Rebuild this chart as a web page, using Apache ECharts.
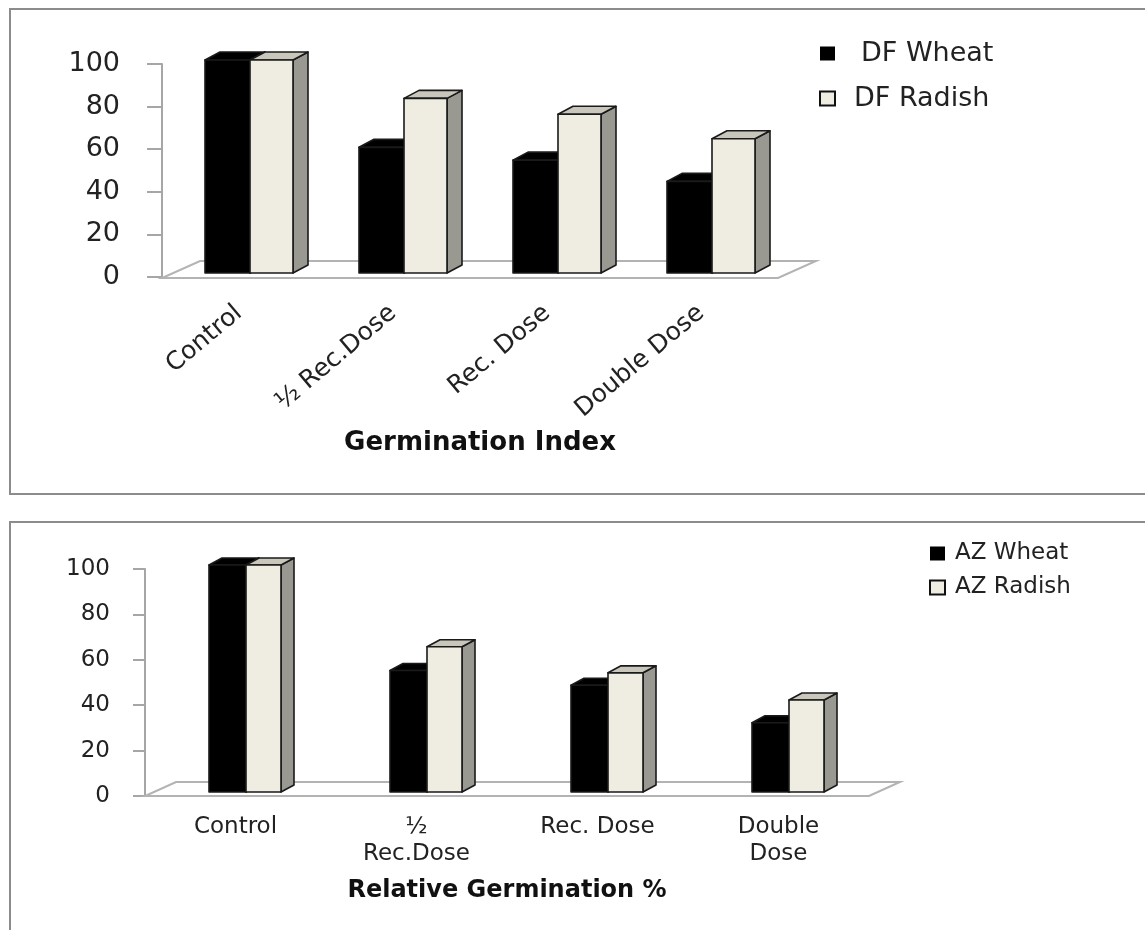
<!DOCTYPE html>
<html>
<head>
<meta charset="utf-8">
<script src="https://cdn.jsdelivr.net/npm/echarts@6/dist/echarts.min.js"></script>
<style>
  html, body { margin: 0; padding: 0; background: #ffffff; }
  #chart { width: 1145px; height: 930px; }
</style>
</head>
<body>
<div id="chart"></div>
<script>
// ---- data ----
const categoriesTop = ['Control', '½ Rec.Dose', 'Rec. Dose', 'Double Dose'];
const categoriesBottom = ['Control', '½\nRec.Dose', 'Rec. Dose', 'Double\nDose'];
const dfWheat = [100, 59, 53, 43];
const dfRadish = [100, 82, 74.5, 63];
const azWheat = [100, 53.5, 47, 30.5];
const azRadish = [100, 64, 52.5, 40.5];
const yMin = 0, yMax = 100, yStep = 20;

const FONT = 'DejaVu Sans';

function barRenderer(cfg) {
  return function (params, api) {
    const cat = api.value(0);
    const v = api.value(1);
    const base = api.coord([cat, 0]);
    const top = api.coord([cat, v]);
    const band = api.size([1, 0])[0];
    const x0 = base[0] - band / 2 + cfg.offset;
    const w = cfg.width;
    const yb = base[1] + cfg.shiftY;
    const yt = top[1] + cfg.shiftY;
    const dx = cfg.dx, dy = cfg.dy;
    const stroke = { stroke: '#1a1a1a', lineWidth: 1.6, lineJoin: 'round' };
    return {
      type: 'group',
      children: [
        { type: 'polygon', shape: { points: [[x0 + w, yt], [x0 + w + dx, yt - dy], [x0 + w + dx, yb - dy], [x0 + w, yb]] },
          style: Object.assign({ fill: cfg.side }, stroke) },
        { type: 'polygon', shape: { points: [[x0, yt], [x0 + w, yt], [x0 + w + dx, yt - dy], [x0 + dx, yt - dy]] },
          style: Object.assign({ fill: cfg.top }, stroke) },
        { type: 'rect', shape: { x: x0, y: yt, width: w, height: yb - yt },
          style: Object.assign({ fill: cfg.front }, stroke) }
      ]
    };
  };
}

function floorRenderer(cfg) {
  return function (params, api) {
    const cs = params.coordSys;
    const yf = cs.y + cs.height + cfg.frontDy;
    const x1 = cs.x, x2 = cs.x + cs.width;
    return {
      type: 'polygon',
      shape: { points: [[x1, yf], [x2, yf], [x2 + cfg.dx, yf - cfg.dy], [x1 + cfg.dx, yf - cfg.dy]] },
      style: { fill: '#ffffff', stroke: '#b3b3b3', lineWidth: 2 }
    };
  };
}

const toPairs = arr => arr.map((v, i) => [i, v]);

const wheatStyle = { front: '#000000', top: '#000000', side: '#000000' };
const radishStyle = { front: '#efede2', top: '#c9c7bb', side: '#9a9991' };

const chart = echarts.init(document.getElementById('chart'), null, { renderer: 'canvas' });

const option = {
  backgroundColor: '#ffffff',
  animation: false,
  graphic: [
    { type: 'rect', shape: { x: 10, y: 9, width: 1145, height: 485 }, style: { fill: 'none', stroke: '#8c8c8c', lineWidth: 2 }, z: -10 },
    { type: 'rect', shape: { x: 10, y: 522, width: 1145, height: 430 }, style: { fill: 'none', stroke: '#8c8c8c', lineWidth: 2 }, z: -10 }
  ],
  legend: [
    {
      orient: 'vertical', left: 819, top: 40, padding: 0, itemGap: 18,
      itemWidth: 15, itemHeight: 14, icon: 'rect',
      textStyle: { fontFamily: FONT, fontSize: 27, color: '#222', lineHeight: 27 },
      data: [
        { name: 'DF Wheat', textStyle: { padding: [0, 0, 0, 21] } },
        { name: 'DF Radish', textStyle: { padding: [0, 0, 0, 14] } }
      ]
    },
    {
      orient: 'vertical', left: 929, top: 542, padding: 0, itemGap: 11,
      itemWidth: 15, itemHeight: 14, icon: 'rect',
      textStyle: { fontFamily: FONT, fontSize: 23, color: '#222', lineHeight: 23, padding: [0, 0, 0, 5] },
      data: ['AZ Wheat', 'AZ Radish']
    }
  ],
  grid: [
    { left: 162, right: 367, top: 64, bottom: 653 },
    { left: 145, right: 276, top: 569, bottom: 134 }
  ],
  xAxis: [
    {
      type: 'category', gridIndex: 0, data: categoriesTop,
      axisLine: { show: false }, axisTick: { show: false },
      axisLabel: { rotate: 40, margin: 33, fontFamily: FONT, fontSize: 25, color: '#222', interval: 0 },
      name: 'Germination Index', nameLocation: 'middle', nameGap: 153,
      nameTextStyle: { fontFamily: FONT, fontWeight: 'bold', fontSize: 26, color: '#111', padding: [0, 0, 0, 20] }
    },
    {
      type: 'category', gridIndex: 1, data: categoriesBottom,
      axisLine: { show: false }, axisTick: { show: false },
      axisLabel: { margin: 18, fontFamily: FONT, fontSize: 23, lineHeight: 27, color: '#222', interval: 0 },
      name: 'Relative Germination %', nameLocation: 'middle', nameGap: 83,
      nameTextStyle: { fontFamily: FONT, fontWeight: 'bold', fontSize: 24, color: '#111' }
    }
  ],
  yAxis: [
    {
      type: 'value', gridIndex: 0, min: yMin, max: yMax, interval: yStep,
      axisLine: { show: true, lineStyle: { color: '#a6a6a6', width: 2 } },
      axisTick: { show: true, length: 15, lineStyle: { color: '#a6a6a6', width: 2 } },
      splitLine: { show: false },
      axisLabel: { margin: 42, fontFamily: FONT, fontSize: 27, color: '#222' }
    },
    {
      type: 'value', gridIndex: 1, min: yMin, max: yMax, interval: yStep,
      axisLine: { show: true, lineStyle: { color: '#a6a6a6', width: 2 } },
      axisTick: { show: true, length: 12, lineStyle: { color: '#a6a6a6', width: 2 } },
      splitLine: { show: false },
      axisLabel: { margin: 35, fontFamily: FONT, fontSize: 23, color: '#222' }
    }
  ],
  series: [
    { type: 'custom', name: 'floorTop', xAxisIndex: 0, yAxisIndex: 0, data: [[0, 0]], z: 1, silent: true, clip: false,
      renderItem: floorRenderer({ frontDy: 1, dx: 38, dy: 17 }) },
    { type: 'custom', name: 'DF Wheat', xAxisIndex: 0, yAxisIndex: 0, data: toPairs(dfWheat), z: 2, clip: false,
      itemStyle: { color: '#000000' },
      renderItem: barRenderer(Object.assign({ offset: 43, width: 45, shiftY: -4, dx: 15, dy: 8 }, wheatStyle)) },
    { type: 'custom', name: 'DF Radish', xAxisIndex: 0, yAxisIndex: 0, data: toPairs(dfRadish), z: 3, clip: false,
      itemStyle: { color: '#efede2', borderColor: '#111', borderWidth: 2 },
      renderItem: barRenderer(Object.assign({ offset: 88, width: 43, shiftY: -4, dx: 15, dy: 8 }, radishStyle)) },

    { type: 'custom', name: 'floorBottom', xAxisIndex: 1, yAxisIndex: 1, data: [[0, 0]], z: 1, silent: true, clip: false,
      renderItem: floorRenderer({ frontDy: 0, dx: 31, dy: 14 }) },
    { type: 'custom', name: 'AZ Wheat', xAxisIndex: 1, yAxisIndex: 1, data: toPairs(azWheat), z: 2, clip: false,
      itemStyle: { color: '#000000' },
      renderItem: barRenderer(Object.assign({ offset: 64, width: 37, shiftY: -4, dx: 13, dy: 7 }, wheatStyle)) },
    { type: 'custom', name: 'AZ Radish', xAxisIndex: 1, yAxisIndex: 1, data: toPairs(azRadish), z: 3, clip: false,
      itemStyle: { color: '#efede2', borderColor: '#111', borderWidth: 2 },
      renderItem: barRenderer(Object.assign({ offset: 101, width: 35, shiftY: -4, dx: 13, dy: 7 }, radishStyle)) }
  ]
};

chart.setOption(option);
</script>
</body>
</html>
